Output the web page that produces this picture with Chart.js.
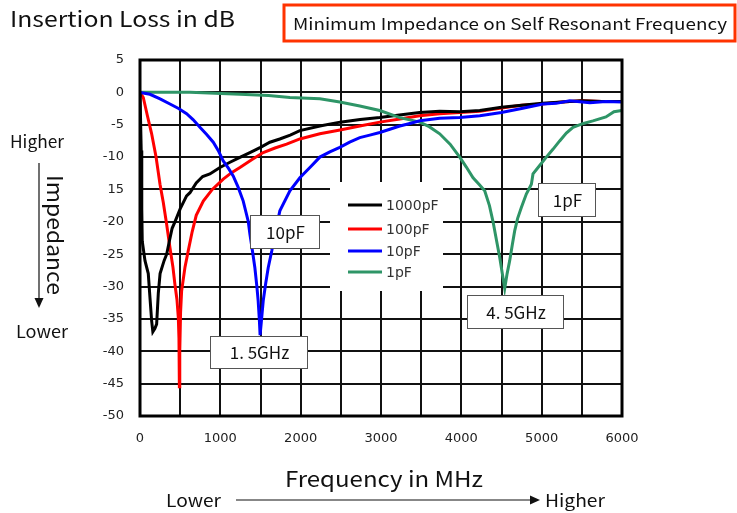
<!DOCTYPE html>
<html>
<head>
<meta charset="utf-8">
<script src="https://cdn.jsdelivr.net/npm/chart.js@4.4.1/dist/chart.umd.min.js"></script>
<style>
  html, body { margin: 0; padding: 0; background: #fff; }
  #chart { display: block; }
</style>
</head>
<body>
<canvas id="chart" width="737" height="513"></canvas>
<script>
/* values: frequency in MHz, insertion loss in dB */
const seriesNames = ["1000pF", "100pF", "10pF", "1pF"];

const freq1000 = [0, 15, 22, 28, 62, 103, 124, 145, 160, 185, 207, 228, 250, 300, 332, 365, 400, 435, 500, 580, 622, 700, 780, 870, 995, 1120, 1250, 1368, 1500, 1617, 1740, 1870, 1990, 2240, 2490, 2740, 2985, 3230, 3480, 3730, 3980, 4230, 4500, 4750, 5010, 5250, 5500, 5750, 6000];
const loss1000 = [0, -9, -18, -23, -26, -28, -31.7, -35.3, -37, -36.5, -35.8, -31, -28, -26, -25, -23, -21, -20, -18, -16, -15.5, -14, -13, -12.6, -11.6, -10.8, -10, -9.3, -8.5, -7.7, -7.2, -6.6, -5.9, -5.2, -4.6, -4.2, -3.9, -3.5, -3.1, -2.9, -3.0, -2.8, -2.3, -2.0, -1.7, -1.5, -1.3, -1.4, -1.4];

const freq100 = [0, 41, 90, 145, 200, 249, 290, 332, 373, 410, 435, 460, 477, 485, 490, 495, 505, 518, 560, 600, 650, 700, 788, 900, 1036, 1140, 1244, 1390, 1534, 1680, 1825, 1990, 2239, 2490, 2736, 2985, 3234, 3480, 3731, 3980, 4230, 4500, 4750, 5010, 5250, 5500, 5750, 6000];
const loss100 = [0, -0.8, -3.5, -6.4, -10, -14.2, -17, -20.4, -24, -27, -29.7, -32, -34.8, -38, -45.5, -40, -34, -30.7, -27, -24.5, -21.5, -19, -16.8, -15, -13.4, -12.4, -11.6, -10.4, -9.3, -8.6, -8, -7.2, -6.4, -5.8, -5.2, -4.6, -4.1, -3.6, -3.3, -3.1, -2.9, -2.4, -2.0, -1.8, -1.5, -1.3, -1.4, -1.4];

const freq10 = [0, 124, 250, 373, 480, 580, 660, 746, 830, 912, 975, 1036, 1100, 1160, 1220, 1285, 1347, 1368, 1400, 1430, 1455, 1471, 1485, 1495, 1510, 1534, 1565, 1596, 1640, 1679, 1741, 1866, 1990, 2115, 2239, 2363, 2487, 2610, 2736, 2860, 2985, 3110, 3234, 3360, 3483, 3730, 3980, 4230, 4499, 4750, 5016, 5180, 5348, 5600, 5800, 6000];
const loss10 = [0, -0.3, -1.0, -1.8, -2.5, -3.3, -4.2, -5.4, -6.5, -7.7, -9, -10.6, -11.7, -12.9, -14.6, -16.8, -19.9, -21.9, -24.5, -27.1, -30, -32.2, -35, -37.5, -35.5, -32.2, -29.5, -27.1, -24.5, -21.9, -18.3, -15.2, -13.2, -11.6, -10, -9.2, -8.5, -7.7, -7.0, -6.6, -6.2, -5.7, -5.2, -4.8, -4.4, -4.0, -3.9, -3.6, -3.1, -2.5, -1.8, -1.7, -1.3, -1.6, -1.4, -1.5];

const freq1 = [0, 622, 1244, 1600, 1866, 2239, 2487, 2736, 2985, 3234, 3483, 3600, 3731, 3860, 3980, 4060, 4146, 4220, 4291, 4350, 4395, 4440, 4478, 4510, 4540, 4570, 4602, 4635, 4664, 4700, 4747, 4809, 4872, 4892, 4975, 5058, 5140, 5224, 5307, 5390, 5520, 5638, 5800, 5900, 6000];
const loss1 = [0, 0, -0.3, -0.5, -0.8, -1.0, -1.5, -2.1, -2.8, -3.9, -4.6, -5.3, -6.4, -8, -10, -11.5, -13.2, -14.2, -15.2, -17.5, -20, -23, -25.5, -28, -30.3, -28, -26, -23.5, -21.4, -19.5, -17.8, -15.7, -14.2, -12.6, -11.3, -10, -8.8, -7.5, -6.3, -5.4, -4.8, -4.4, -3.8, -3.0, -2.8];

const xTickLabels = ["0", "1000", "2000", "3000", "4000", "5000", "6000"];
const yTickLabels = ["5", "0", "-5", "-10", "15", "-20", "-25", "-30", "-35", "-40", "-45", "-50"];

const calloutTexts = ["10pF", "1. 5GHz", "1pF", "4. 5GHz"];

function pts(xs, ys) {
  return xs.map((x, i) => ({ x, y: ys[i] }));
}

const lineColors = ["#000000", "#ff0000", "#0000ff", "#2e9567"];
const FONT = "'Noto Sans CJK JP', 'Noto Sans', sans-serif";

// draws left-aligned text squeezed/stretched horizontally to a given width
function fitText(ctx, text, x, y, width) {
  const w = ctx.measureText(text).width;
  ctx.save();
  ctx.translate(x, y);
  ctx.scale(width / w, 1);
  ctx.textAlign = "left";
  ctx.fillText(text, 0, 0);
  ctx.restore();
}

function arrow(ctx, x1, y1, x2, y2) {
  const ang = Math.atan2(y2 - y1, x2 - x1);
  const hl = 10, hw = 4.5;
  ctx.beginPath();
  ctx.moveTo(x1, y1);
  ctx.lineTo(x2 - Math.cos(ang) * hl, y2 - Math.sin(ang) * hl);
  ctx.stroke();
  ctx.beginPath();
  ctx.moveTo(x2, y2);
  ctx.lineTo(x2 - Math.cos(ang) * hl - Math.sin(ang) * hw, y2 - Math.sin(ang) * hl + Math.cos(ang) * hw);
  ctx.lineTo(x2 - Math.cos(ang) * hl + Math.sin(ang) * hw, y2 - Math.sin(ang) * hl - Math.cos(ang) * hw);
  ctx.closePath();
  ctx.fill();
}

function callout(ctx, text, x, y, w, h) {
  ctx.fillStyle = "#fff";
  ctx.fillRect(x, y, w, h);
  ctx.strokeStyle = "#555";
  ctx.lineWidth = 1;
  ctx.strokeRect(x + 0.5, y + 0.5, w, h);
  ctx.fillStyle = "#111";
  ctx.font = "17px " + FONT;
  ctx.textAlign = "center";
  ctx.textBaseline = "middle";
  ctx.fillText(text, x + w / 2 + 1, y + h / 2 + 1);
}

const decor = {
  id: "decor",
  afterDatasetsDraw(chart) {
    const ctx = chart.ctx;
    const a = chart.chartArea;
    ctx.save();

    // frame
    ctx.strokeStyle = "#000";
    ctx.lineWidth = 3;
    ctx.strokeRect(a.left, a.top, a.right - a.left, a.bottom - a.top);

    // legend box
    ctx.fillStyle = "#fff";
    ctx.fillRect(330, 182, 113, 109);
    ctx.font = "14px 'DejaVu Sans', sans-serif";
    ctx.textAlign = "left";
    ctx.textBaseline = "middle";
    const rows = [205, 229, 251, 272];
    seriesNames.forEach((name, i) => {
      ctx.strokeStyle = lineColors[i];
      ctx.lineWidth = 3;
      ctx.beginPath();
      ctx.moveTo(348, rows[i]);
      ctx.lineTo(382, rows[i]);
      ctx.stroke();
      ctx.fillStyle = "#333";
      ctx.fillText(name, 386, rows[i] + 1);
    });

    // callouts
    callout(ctx, calloutTexts[0], 250, 215, 69, 33);
    callout(ctx, calloutTexts[1], 210, 336, 97, 32);
    callout(ctx, calloutTexts[2], 538, 183, 57, 33);
    callout(ctx, calloutTexts[3], 467, 295, 96, 33);
    ctx.restore();
  },
  afterDraw(chart) {
    const ctx = chart.ctx;
    ctx.save();
    ctx.fillStyle = "#111";
    ctx.strokeStyle = "#111";
    ctx.textBaseline = "middle";

    ctx.font = "21px " + FONT;
    fitText(ctx, "Insertion Loss in dB", 10, 19, 225);

    // red framed note
    ctx.strokeStyle = "#ff3300";
    ctx.lineWidth = 3;
    ctx.strokeRect(284, 5, 451, 36);
    ctx.font = "16px " + FONT;
    fitText(ctx, "Minimum Impedance on Self Resonant Frequency", 293, 24, 434);

    // left side
    ctx.font = "17px " + FONT;
    fitText(ctx, "Higher", 10, 142, 54);
    fitText(ctx, "Lower", 16, 332, 52);
    ctx.strokeStyle = "#111";
    ctx.lineWidth = 1.2;
    arrow(ctx, 39, 163, 39, 308);
    ctx.save();
    ctx.translate(55, 175);
    ctx.rotate(Math.PI / 2);
    ctx.font = "21px " + FONT;
    fitText(ctx, "Impedance", 0, 0, 120);
    ctx.restore();

    // bottom
    ctx.font = "22px " + FONT;
    fitText(ctx, "Frequency in MHz", 285, 479, 198);
    ctx.font = "17px " + FONT;
    fitText(ctx, "Lower", 166, 501, 55);
    fitText(ctx, "Higher", 545, 501, 60);
    arrow(ctx, 236, 500, 540, 500);
    ctx.restore();
  }
};

const tickFont = { family: "'DejaVu Sans', sans-serif", size: 13 };

new Chart(document.getElementById("chart"), {
  type: "line",
  data: {
    datasets: [
      { label: seriesNames[0], data: pts(freq1000, loss1000), borderColor: lineColors[0], order: 2 },
      { label: seriesNames[1], data: pts(freq100, loss100), borderColor: lineColors[1], order: 3 },
      { label: seriesNames[2], data: pts(freq10, loss10), borderColor: lineColors[2], order: 0 },
      { label: seriesNames[3], data: pts(freq1, loss1), borderColor: lineColors[3], order: 1 }
    ].map(d => Object.assign(d, { borderWidth: 3, pointRadius: 0, tension: 0, fill: false }))
  },
  options: {
    responsive: false,
    animation: false,
    devicePixelRatio: 1,
    layout: { padding: { top: 60, right: 115, left: 0, bottom: 0 } },
    plugins: { legend: { display: false }, tooltip: { enabled: false } },
    scales: {
      x: {
        type: "linear",
        min: 0,
        max: 6000,
        afterFit: s => { s.height = 97; },
        border: { display: false },
        grid: { color: "#111", lineWidth: 2, drawTicks: false },
        ticks: {
          stepSize: 500,
          padding: 15,
          maxRotation: 0,
          autoSkip: false,
          color: "#222",
          font: tickFont,
          callback: v => (v % 1000 === 0 ? xTickLabels[v / 1000] : "")
        }
      },
      y: {
        min: -50,
        max: 5,
        afterFit: s => { s.width = 140; },
        border: { display: false },
        grid: { color: "#111", lineWidth: 2, drawTicks: false },
        ticks: {
          stepSize: 5,
          padding: 16,
          color: "#222",
          font: tickFont,
          callback: v => yTickLabels[(5 - v) / 5]
        }
      }
    }
  },
  plugins: [decor]
});
</script>
</body>
</html>
